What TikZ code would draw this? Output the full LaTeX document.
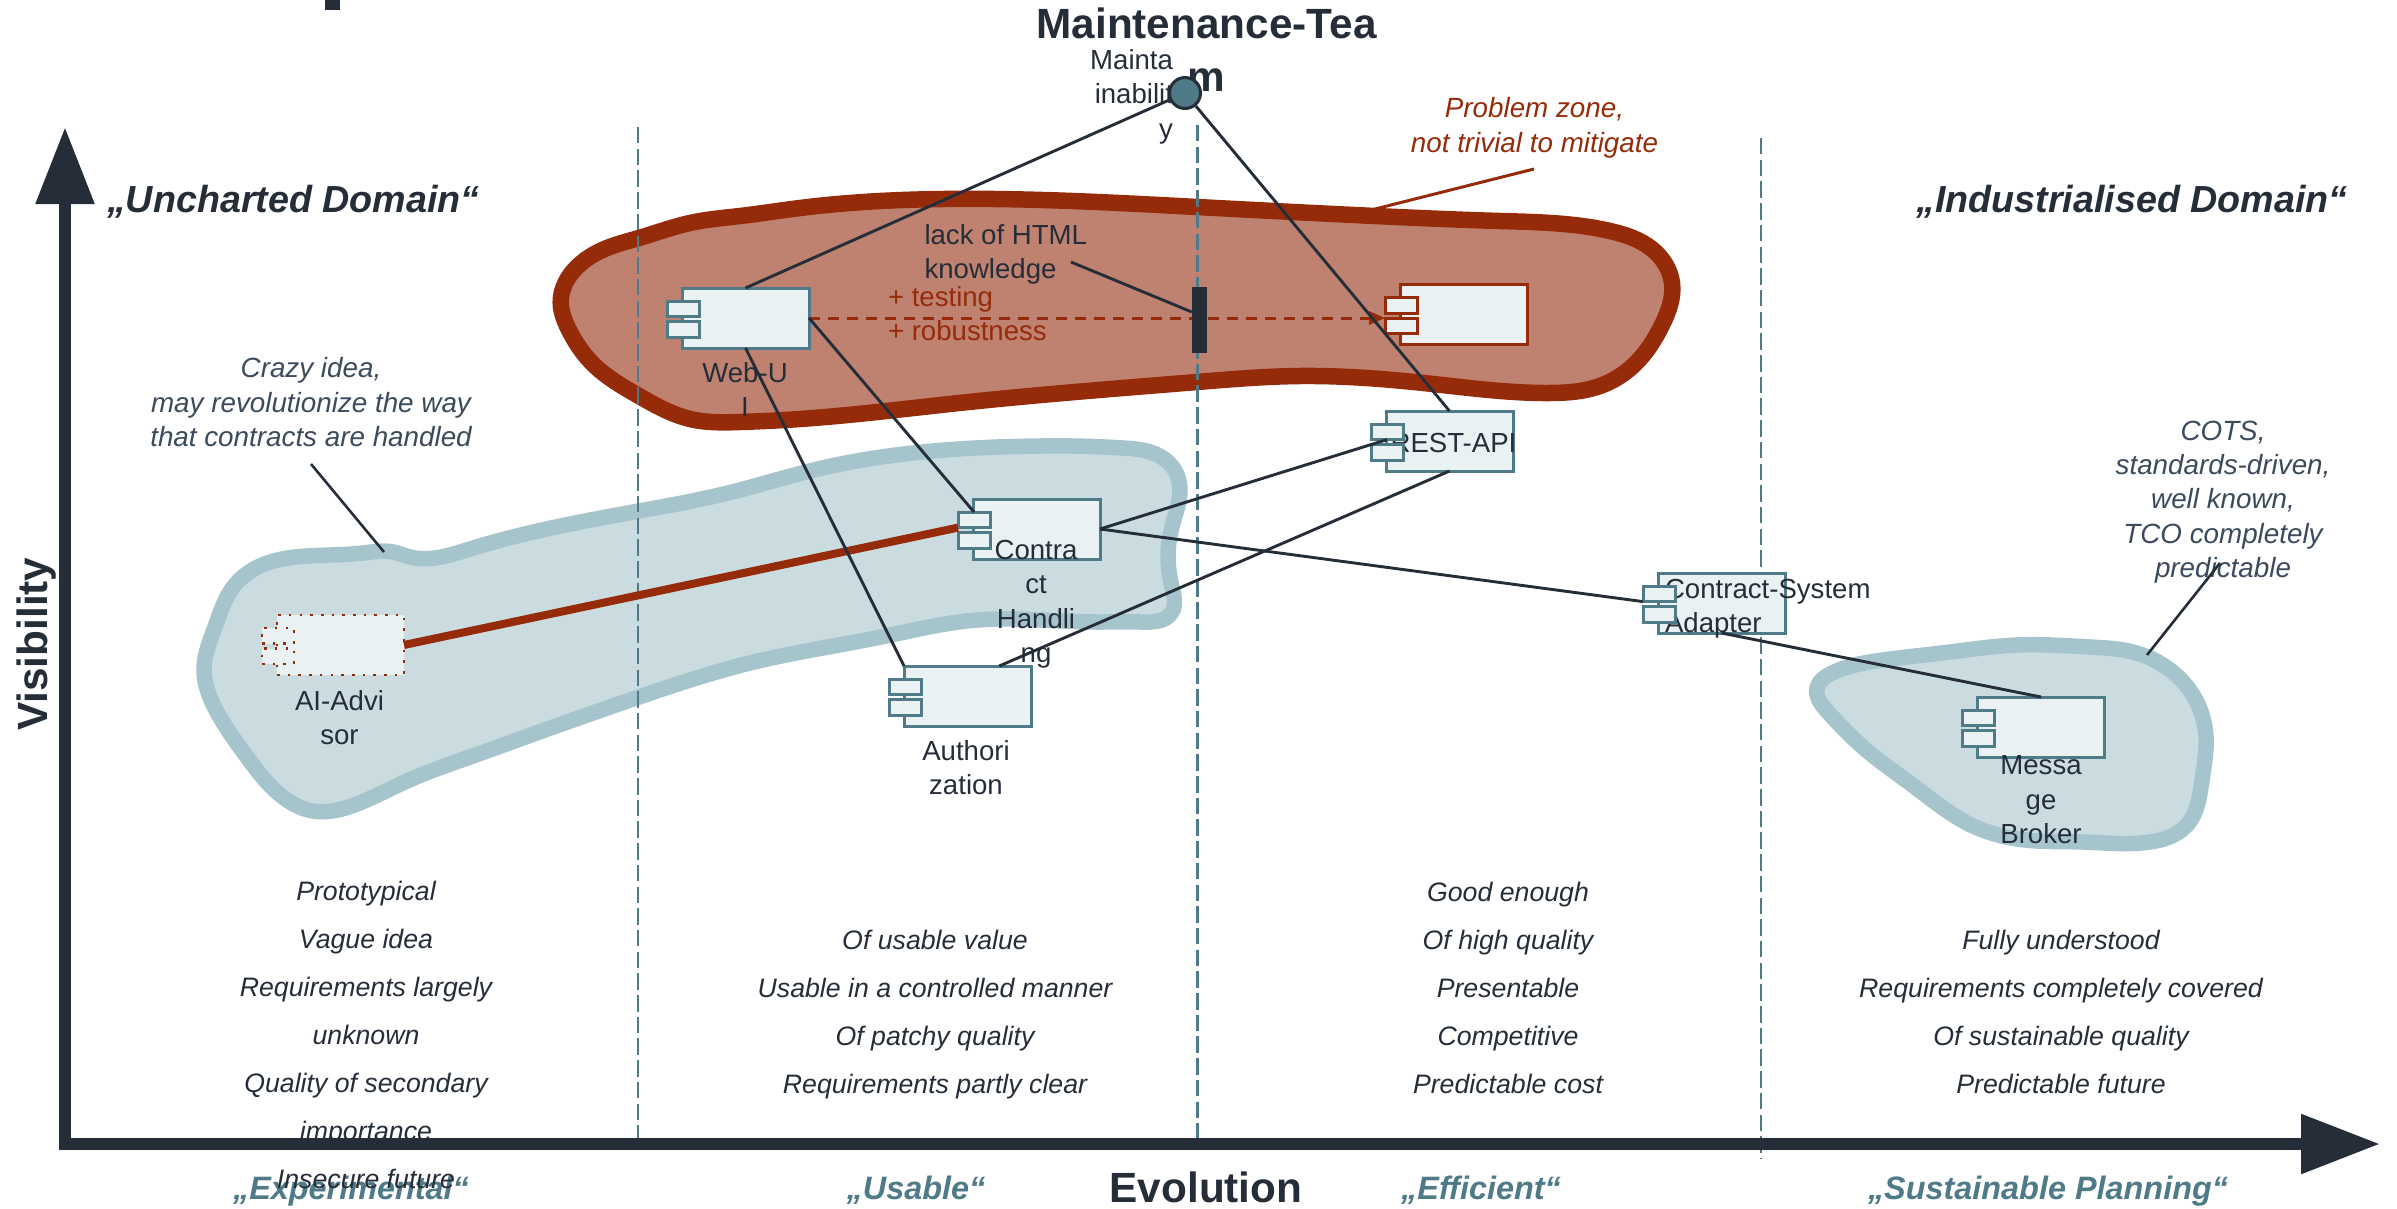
\documentclass[tikz,border=0pt]{standalone}
\usepackage{fontspec}
\setmainfont[Ligatures={TeX,NoCommon}]{Liberation Sans}
\usetikzlibrary{arrows.meta,calc,hobby}
\definecolor{ink}{HTML}{252D38}
\definecolor{tealx}{HTML}{4F7A87}
\definecolor{rust}{HTML}{962B0A}
\definecolor{rustfill}{HTML}{C08270}
\definecolor{paleline}{HTML}{A6C4CC}
\definecolor{palefill}{HTML}{CBDCE1}
\definecolor{compfill}{HTML}{E9F1F3}
\definecolor{slate}{HTML}{3B4A5C}
\newcommand{\fsN}{\fontsize{27.6}{34.2}\selectfont}
\newcommand{\fsI}{\fontsize{27.8}{34.2}\selectfont}
\tikzset{
  txt/.style={inner sep=0,outer sep=0,text=ink,font=\fsN,align=center,anchor=base,yshift=-1.2pt},
  txtl/.style={txt,align=left,anchor=base west},
  txtr/.style={txt,align=right,anchor=base east},
  note/.style={txt,text=slate,font=\fsI\itshape},
  rednote/.style={txt,text=rust,font=\fsI\itshape},
  listcol/.style={txt,font=\fontsize{26.7}{47.9}\selectfont\itshape},
  domainhead/.style={txt,font=\fontsize{37.7}{44}\selectfont\bfseries\itshape},
  phasehead/.style={txt,text=tealx,font=\fontsize{32.4}{40}\selectfont\bfseries\itshape},
  axistitle/.style={txt,font=\fontsize{42.3}{53}\selectfont\bfseries},
  compT/.style={draw=tealx,line width=3pt},
  compR/.style={draw=rust,line width=3pt},
  compD/.style={draw=rust,line width=2.6pt,dash pattern=on 2.6pt off 8.1pt},
  compmain/.style={fill=compfill,anchor=north west,inner sep=0,outer sep=0,minimum width=127pt,minimum height=60pt},
  compsmall/.style={fill=compfill,anchor=north west,inner sep=0,outer sep=0,minimum width=32pt,minimum height=15.6pt},
  link/.style={draw=ink,line width=2.9pt},
  callout/.style={draw=ink,line width=2.6pt},
  phaseline/.style={draw=tealx,line width=2.2pt,dash pattern=on 16.5pt off 5.2pt},
  axisline/.style={draw=ink,line width=12pt},
  blobred/.style={draw=rust,fill=rustfill,line width=16.5pt,line join=round,use Hobby shortcut,closed=true},
  blobblue/.style={draw=paleline,fill=palefill,line width=15.5pt,line join=round,use Hobby shortcut,closed=true},
}
% #1 look, #2 name, #3 left of the main box, #4 top of the main box, #5 what lies between the main box and its two small boxes
\newcommand{\compbox}[5]{%
  \node[compmain,#1] (#2) at (#3,#4) {};
  #5
  \node[compsmall,#1] (#2-a) at ({#3-15},{#4+13}) {};
  \node[compsmall,#1] (#2-b) at ({#3-15},{#4+33.5}) {};
}
\begin{document}
\begin{tikzpicture}[x=1pt,y=-1pt]
\useasboundingbox (0,0) rectangle (2397,1209);

% cut-off descender at the top edge
\fill[ink] (325,0) rectangle (340,10.5);

% zones
\draw[blobred] (560.7,302.7) .. (577,267) .. (607,248) .. (639,238) .. (690,223) .. (740,216) .. (800,208)
 .. (944,199) .. (1197,207) .. (1375,216) .. (1500,221) .. (1610,231) .. (1652,249) .. (1672,283)
 .. (1662,325) .. (1635,364) .. (1600,386) .. (1550,393) .. (1433,384) .. (1300,376) .. (1197,382)
 .. (959,403) .. (800,419) .. (740,422) .. (690,419) .. (639,396) .. (592,363) .. (568,328);
\draw[blobblue] (204,668) .. (215,627) .. (234,586) .. (260,566) .. (307,556) .. (363,553) .. (393,552) .. (410,557)
 .. (470,549) .. (639,511) .. (728,493) .. (818,469) .. (913,453) .. (1041,446) .. (1073,446) .. (1123,448) .. (1153,453)
 .. (1174,469) .. (1180,490) .. (1173,523) .. (1168,557) .. (1172,587) .. (1172,612) .. (1140,622) .. (1097,622)
 .. (977,620) .. (881,637) .. (754,662) .. (639,697) .. (531,735) .. (470,757) .. (407,781) .. (357,804)
 .. (313,811) .. (287,800) .. (247,757) .. (217,712);
\draw[blobblue] (1817,688) .. (1832,673) .. (1883,660) .. (1950,652) .. (2017,645) .. (2090,647) .. (2133,652) .. (2166,667)
 .. (2193,695) .. (2206,737) .. (2202,780) .. (2187,825) .. (2150,842) .. (2083,842) .. (2017,839) .. (1967,823)
 .. (1915,787) .. (1865,749) .. (1827,711);

% phase separators
\coordinate (s1t) at (638,127); \coordinate (s1b) at (638,1148);
\coordinate (s2t) at (1197.5,125); \coordinate (s2b) at (1197.5,1148);
\coordinate (s3t) at (1761,138); \coordinate (s3b) at (1761,1158);
\draw[phaseline] (s1t) -- (s1b);
\draw[phaseline] (s2t) -- (s2b);
\draw[phaseline] (s3t) -- (s3b);

% axes
\coordinate (xs) at (59,1144); \coordinate (xe) at (2380,1144);
\coordinate (ys) at (65,1150); \coordinate (ye) at (65,127);
\draw[axisline,-{Triangle[length=79pt,width=57pt]}] (xs) -- (xe);
\draw[axisline,-{Triangle[length=77pt,width=56pt]}] (ys) -- (ye);

% components
\compbox{compT}{web}{682}{288}{}
\compbox{compR}{frontend}{1400}{284.5}{}
\compbox{compT}{rest}{1386}{411}{\node[txt] (restlabel) at (1453.5,451) {REST-API};}
\compbox{compT}{contract}{973}{499}{}
\compbox{compT}{auth}{904}{666}{}
\compbox{compD}{ai}{277}{615}{}
\compbox{compT}{adapter}{1658}{573}{\node[txtl] (adapterlabel) at (1665,631) {Contract-System\\Adapter};}
\compbox{compT}{broker}{1977.5}{697}{}

% red connectors
\draw[rust,line width=8pt] (ai.east) -- (contract-a.south west);
\draw[rust,line width=3pt,dash pattern=on 11pt off 8pt,-{Triangle[length=16pt,width=13pt]}] (web.east) -- (frontend-b.north west);

% bar on the dependency
\node[fill=ink,inner sep=0,outer sep=0,minimum width=15.5pt,minimum height=66pt] (bar) at (1199.5,320) {};

% texts that lie below the circle
\node[txtr] (maintlabel) at (1173,137) {Mainta\\inabilit\\y};
\node[axistitle] (team) at (1206.5,90) {Maintenance-Tea\\m};

% team node and dependency links
\node[circle,draw=ink,fill=tealx,line width=3pt,inner sep=0,minimum size=31pt] (maint) at (1185,93) {};
\draw[link] (maint) -- (web.north);
\draw[link] (maint) -- (rest.north);
\draw[link] (web.east) -- (contract-a.north);
\draw[link] (web.south) -- (auth.north west);
\draw[link] (contract.east) -- (rest-a.south);
\draw[link] (contract.east) -- (adapter-a.south west);
\draw[link] (adapter.south) -- (broker.north);
\draw[link] (rest.south) -- ($(auth.north)!.5!(auth.north east)$);

% component labels
\node[txt] (weblabel) at (745,415) {Web-U\\I};
\node[txt] (contractlabel) at (1036,661) {Contra\\ct\\Handli\\ng};
\node[txt] (ailabel) at (339.5,743) {AI-Advi\\sor};
\node[txt] (authlabel) at (966,793) {Authori\\zation};
\node[txt] (brokerlabel) at (2041,842) {Messa\\ge\\Broker};

% dependency labels
\node[txtl] (lack) at (924.5,277) {lack of HTML\\knowledge};
\coordinate (lackend) at (1071,262);
\draw[link] (lackend) -- ($(bar.west)+(0,-8)$);
\node[txtl,text=rust] (plus) at (888,339) {+ testing\\+ robustness};

% notes
\node[note] (crazy) at (311,445) {Crazy idea,\\may revolutionize the way\\that contracts are handled};
\coordinate (crazyfrom) at (311,464); \coordinate (crazyto) at (384,552);
\draw[callout] (crazyfrom) -- (crazyto);
\node[note] (cots) at (2223,576) {COTS,\\standards-driven,\\well known,\\TCO completely\\predictable};
\coordinate (cotsfrom) at (2220,563); \coordinate (cotsto) at (2147,655);
\draw[callout] (cotsfrom) -- (cotsto);
\node[rednote] (problem) at (1534.5,151) {Problem zone,\\not trivial to mitigate};
\coordinate (probfrom) at (1534,169); \coordinate (probto) at (1375,209);
\draw[rust,line width=3pt] (probfrom) -- (probto);

% domain headings
\node[domainhead,anchor=base west] (uncharted) at (107,211) {„Uncharted Domain“};
\node[domainhead] (industrial) at (2132,211) {„Industrialised Domain“};

% axis titles
\node[axistitle,rotate=90] (visibility) at (47,643) {Visibility};
\node[axistitle] (evolution) at (1206,1201) {Evolution};

% phase titles
\node[phasehead] (experimental) at (351,1198) {„Experimental“};
\node[phasehead] (usable) at (916,1198) {„Usable“};
\node[phasehead] (efficient) at (1481,1198) {„Efficient“};
\node[phasehead] (sustainable) at (2048,1198) {„Sustainable Planning“};

% characteristics
\node[listcol] (col1) at (366,1187) {Prototypical\\Vague idea\\Requirements largely\\unknown\\Quality of secondary\\importance\\Insecure future};
\node[listcol] (col2) at (935,1092) {Of usable value\\Usable in a controlled manner\\Of patchy quality\\Requirements partly clear};
\node[listcol] (col3) at (1508,1092) {Good enough\\Of high quality\\Presentable\\Competitive\\Predictable cost};
\node[listcol] (col4) at (2061,1092) {Fully understood\\Requirements completely covered\\Of sustainable quality\\Predictable future};
\end{tikzpicture}
\end{document}
